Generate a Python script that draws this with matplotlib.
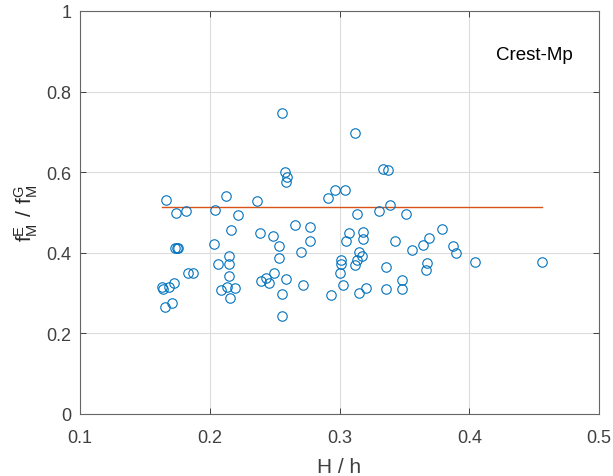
import matplotlib.pyplot as plt
import numpy as np

plt.rcParams['font.family'] = ['Liberation Sans', 'DejaVu Sans']
plt.rcParams['mathtext.fontset'] = 'custom'
plt.rcParams['mathtext.rm'] = 'Liberation Sans'

# H/h values of the samples
h_ratio = [
    0.2556, 0.2577, 0.2595, 0.2585, 0.1665, 0.2127, 0.2364, 0.1740, 0.1814, 0.2043,
    0.2217, 0.2161, 0.2384, 0.2484, 0.2660, 0.2035, 0.2530, 0.1735, 0.1745, 0.1755,
    0.2145, 0.2060, 0.2148, 0.2533, 0.2707, 0.2772, 0.1832, 0.1873, 0.2145, 0.1629,
    0.1642, 0.1686, 0.1721, 0.2086, 0.2135, 0.2194, 0.2153, 0.2394, 0.2433, 0.2453,
    0.2495, 0.2585, 0.2556, 0.2715, 0.1652, 0.1711, 0.2559, 0.3121, 0.3334, 0.3373,
    0.2911, 0.2965, 0.3039, 0.3136, 0.3304, 0.3388, 0.3514, 0.2772, 0.3075, 0.3178,
    0.3178, 0.3047, 0.3424, 0.3691, 0.3792, 0.3645, 0.3555, 0.3147, 0.3170, 0.3136,
    0.3121, 0.3011, 0.3008, 0.3003, 0.3360, 0.3678, 0.3670, 0.3028, 0.2936, 0.3147,
    0.3204, 0.3360, 0.3483, 0.3483, 0.3874, 0.3894, 0.4043, 0.4559,
]
# fM^E / fM^G
f_ratio = [
    0.747, 0.600, 0.587, 0.576, 0.530, 0.542, 0.528, 0.498, 0.503, 0.506,
    0.494, 0.456, 0.449, 0.442, 0.468, 0.422, 0.416, 0.411, 0.412, 0.411,
    0.393, 0.373, 0.373, 0.387, 0.402, 0.429, 0.349, 0.349, 0.343, 0.314,
    0.310, 0.314, 0.324, 0.308, 0.314, 0.313, 0.287, 0.329, 0.338, 0.325,
    0.349, 0.334, 0.298, 0.320, 0.265, 0.275, 0.242, 0.697, 0.608, 0.605,
    0.536, 0.557, 0.557, 0.497, 0.503, 0.518, 0.497, 0.463, 0.449, 0.451,
    0.435, 0.428, 0.428, 0.436, 0.459, 0.419, 0.406, 0.401, 0.391, 0.382,
    0.370, 0.381, 0.372, 0.349, 0.364, 0.374, 0.357, 0.319, 0.295, 0.301,
    0.313, 0.310, 0.333, 0.310, 0.418, 0.400, 0.376, 0.376,
]
fit_level = 0.513
panel_label = "Crest-Mp"

fg = '#262626'
fig = plt.figure(figsize=(6.13, 4.77), dpi=100)
ax = fig.add_axes([0.1305, 0.13, 0.8467, 0.8449])

ax.plot(h_ratio, f_ratio, 'o', mfc='none', mec='#0072BD', ms=6.8, mew=0.8, zorder=3)
xs = np.array(h_ratio)
ax.plot([xs.min(), xs.max()], [fit_level, fit_level], '-', color='#D95319', lw=1.0, zorder=2)

ax.set_xlim(0.1, 0.5)
ax.set_ylim(0, 1)
ax.set_xticks([0.1, 0.2, 0.3, 0.4, 0.5])
ax.set_yticks([0, 0.2, 0.4, 0.6, 0.8, 1])
ax.set_xticklabels(['0.1', '0.2', '0.3', '0.4', '0.5'])
ax.set_yticklabels(['0', '0.2', '0.4', '0.6', '0.8', '1'])
ax.grid(True, color='#dcdcdc', lw=0.8)
ax.set_axisbelow(True)
ax.tick_params(direction='in', length=4, width=0.6, colors=fg, labelsize=13,
               top=True, right=True, labelcolor='#404040')
ax.tick_params(axis='x', pad=10.5)
ax.tick_params(axis='y', pad=6)
for s in ax.spines.values():
    s.set_color('#666666')
    s.set_linewidth(0.8)

ax.set_xlabel('H / h', fontsize=15, color='#404040', labelpad=8)
ax.set_ylabel(r'$\mathregular{f_M^E\ /\ f_M^G}$', fontsize=15, color=fg, labelpad=5)
ax.text(0.95, 0.893, panel_label, transform=ax.transAxes, ha='right', va='center',
        fontsize=13.5, color='black')

fig.savefig('out.png', dpi=100)
